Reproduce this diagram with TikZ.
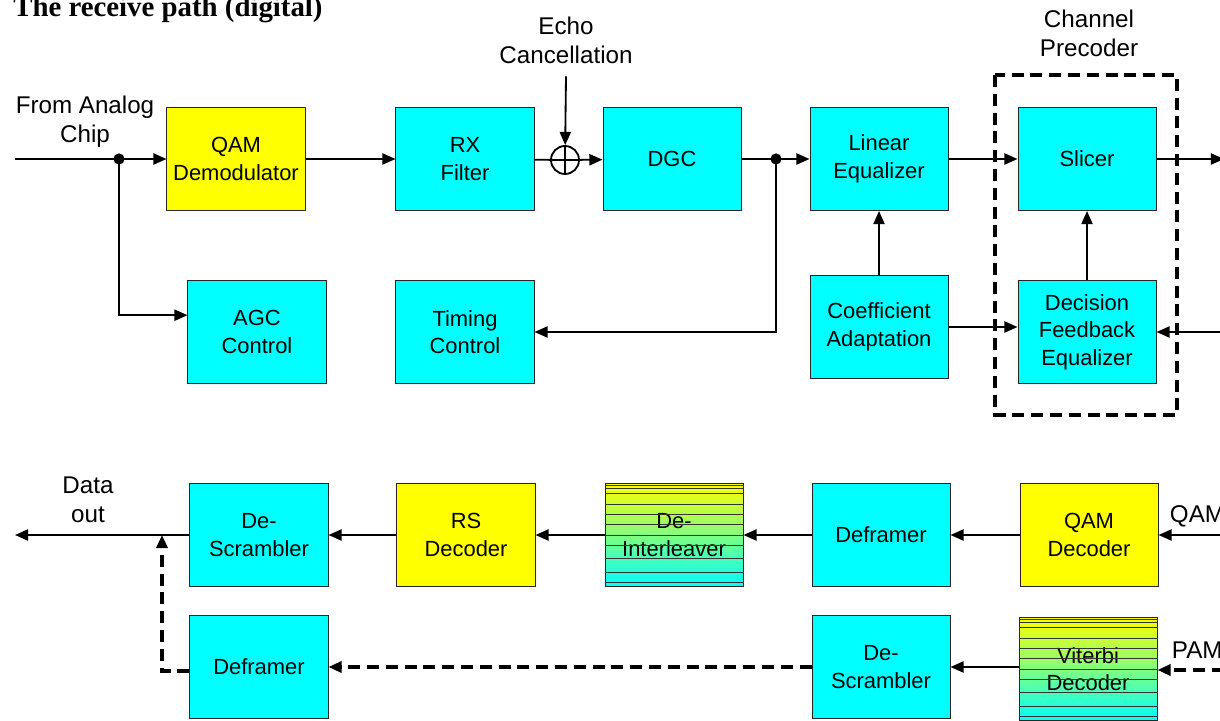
\documentclass[tikz,border=0pt]{standalone}
\usepackage{fontspec}
\setmainfont{Liberation Sans}
\newfontfamily\titlefont{Liberation Serif}
\usetikzlibrary{arrows.meta,calc}
\definecolor{boxcyan}{RGB}{0,255,255}
\definecolor{boxyellow}{RGB}{255,255,0}
\begin{document}
\begin{tikzpicture}[x=0.025cm,y=-0.025cm,
  box/.style={draw=black!85,line width=0.7pt,fill=boxcyan,minimum width=3.45cm,minimum height=2.575cm,
    align=center,font=\fontsize{15.6}{19.5}\selectfont},
  ybox/.style={box,fill=boxyellow},
  gbox/.style={box,top color=boxyellow,bottom color=boxcyan},
  lbl/.style={align=center,font=\fontsize{17.2}{20.5}\selectfont},
  conn/.style={line width=1.3pt,-{Triangle[length=0.33cm,width=0.28cm]}},
  dconn/.style={conn,line width=2.8pt,dash pattern=on 0.3cm off 0.17cm},
  precframe/.style={line width=2.8pt,dash pattern=on 0.3cm off 0.17cm}]
\useasboundingbox (0,0) rectangle (1220,721);
% title
\node[anchor=base west,inner sep=0pt,font=\titlefont\bfseries\fontsize{20.5}{24}\selectfont] (title) at (13,17) {The receive path (digital)};
% upper path
\node[lbl] (from) at (85,122) {From Analog\\Chip};
\node[ybox] (qamdem) at (236,159) {QAM\\Demodulator};
\node[box] (rxf) at (465,159) {RX\\Filter};
\node[draw,circle,line width=1.3pt,minimum size=0.7cm,inner sep=0pt] (sum) at (565,160) {};
\draw[line width=1pt] (sum.north) -- (sum.south) (sum.west) -- (sum.east);
\node[lbl] (echo) at (566,40) {Echo\\Cancellation};
\node[box] (dgc) at (672,159) {DGC};
\node[box] (lineq) at (879,159) {Linear\\Equalizer};
\node[box] (slicer) at (1087,159) {Slicer};
\node[box] (agc) at (257,332) {AGC\\Control};
\node[box] (timing) at (465,332) {Timing\\Control};
\node[box] (coeff) at (879,327) {Coefficient\\Adaptation};
\node[box] (dfe) at (1087,332) {Decision\\Feedback\\Equalizer};
\draw[precframe] (995,75) rectangle (1177,415);
\node[lbl] (prec) at (1089,33) {Channel\\Precoder};
\coordinate (in) at (15,159);
\coordinate (j1) at (119,159);
\coordinate (j2) at (776,159);
\coordinate (out1) at (1224,159);
\coordinate (in2) at (1224,332);
\draw[conn] (in) -- (qamdem);
\fill (j1) circle (0.14cm);
\draw[conn] (j1) |- ([yshift=0.42cm]agc.west);
\draw[conn] (qamdem) -- (rxf);
\draw[line width=1.3pt] (rxf) -- (sum);
\draw[conn] (echo.south) ++(0,8) -- (sum);
\draw[conn] (sum) -- (dgc);
\draw[conn] (dgc) -- (lineq);
\fill (j2) circle (0.14cm);
\draw[conn] (j2) |- (timing);
\draw[conn] (lineq) -- (slicer);
\draw[conn] (slicer) -- (out1);
\draw[conn] (coeff) -- (lineq);
\draw[conn] (coeff.east) -- (coeff.east -| dfe.west);
\draw[conn] (dfe) -- (slicer);
\draw[conn] (in2) -- (dfe);
% lower path
\node[box] (descr) at (259,535) {De-\\Scrambler};
\node[ybox] (rsdec) at (466,535) {RS\\Decoder};
\node[gbox] (deint) at (674,535) {De-\\Interleaver};
\node[box] (defr) at (881,535) {Deframer};
\node[ybox] (qamdec) at (1089,535) {QAM\\Decoder};
\node[box] (defr2) at (259,667) {Deframer};
\node[box] (descr2) at (881,667) {De-\\Scrambler};
\node[gbox] (viterbi) at (1088,669) {Viterbi\\Decoder};
\foreach \n in {deint,viterbi}
  \foreach \f in {0.02,0.05,0.1,0.2,0.3,0.4,0.5,0.6,0.72,0.86,0.95}
    \draw[line width=0.3pt,black!80] ($(\n.north west)!\f!(\n.south west)$) -- ($(\n.north east)!\f!(\n.south east)$);
\node[lbl] (dout) at (88,500) {Data\\out};
\node[lbl,anchor=base west] (qaml) at (1165,522) {QAM};
\node[lbl,anchor=base west] (paml) at (1167,658) {PAM};
\coordinate (outd) at (15,535);
\coordinate (inqam) at (1224,535);
\coordinate (inpam) at (1224,670);
\coordinate (j3) at (162,535);
\draw[conn] (inqam) -- (qamdec);
\draw[conn] (qamdec) -- (defr);
\draw[conn] (defr) -- (deint);
\draw[conn] (deint) -- (rsdec);
\draw[conn] (rsdec) -- (descr);
\draw[conn] (descr) -- (outd);
\draw[dconn] (inpam) -- (inpam -| viterbi.east);
\draw[conn] (descr2.east -| viterbi.west) -- (descr2.east);
\draw[dconn] (descr2) -- (defr2);
\draw[dconn] ([yshift=-0.1cm]defr2.west) -| (j3);
\end{tikzpicture}
\end{document}
